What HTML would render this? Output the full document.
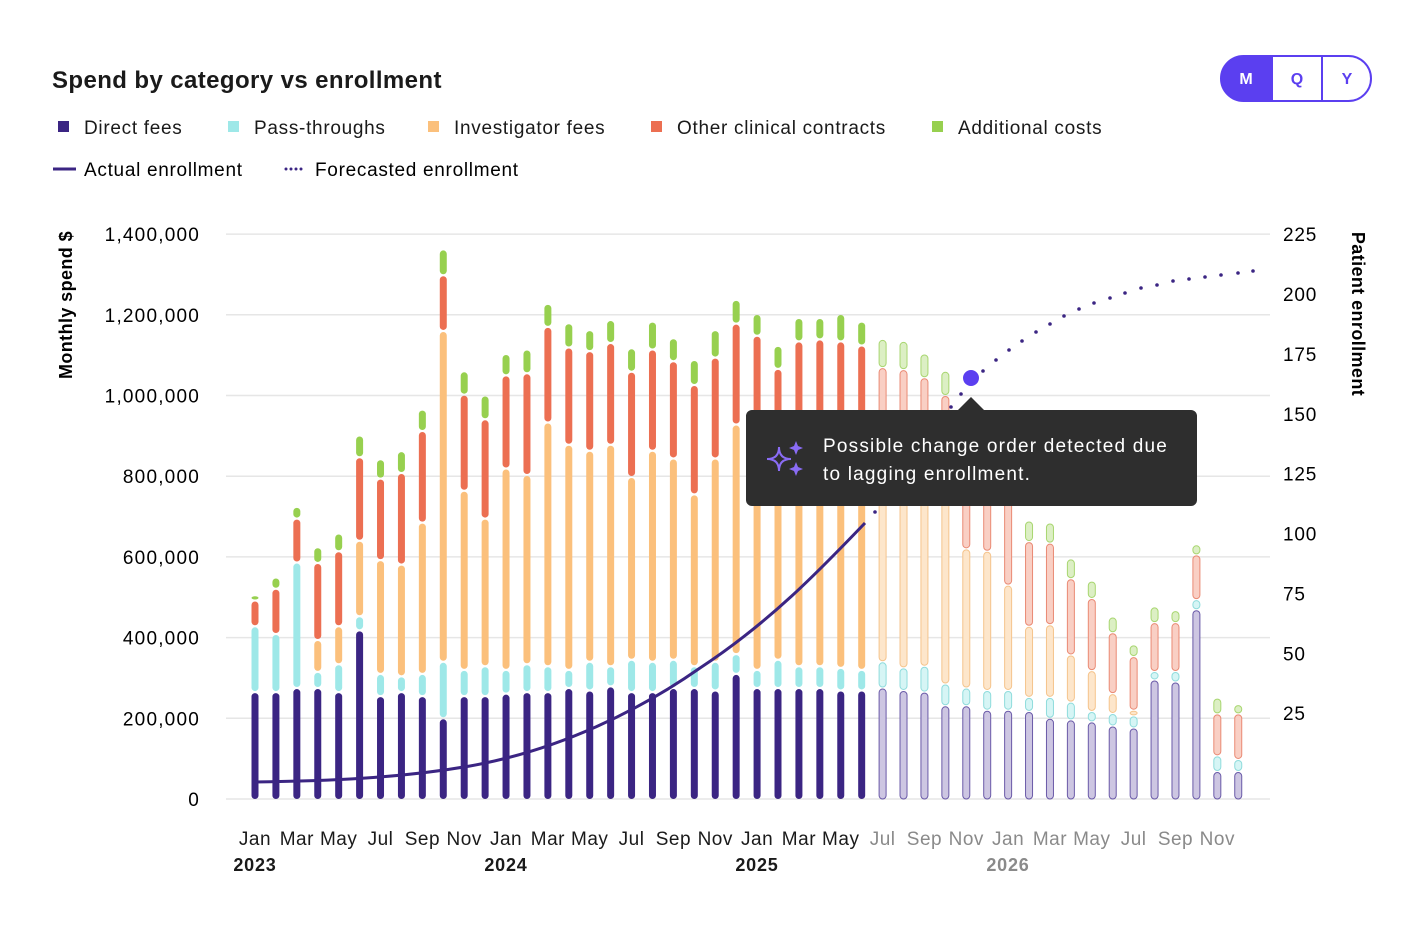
<!DOCTYPE html>
<html><head><meta charset="utf-8"><style>
html,body{margin:0;padding:0;background:#fff;width:1424px;height:950px;overflow:hidden;font-family:"Liberation Sans",sans-serif;color:#1a1a1a}
svg{position:absolute;left:0;top:0}
</style></head><body>
<svg id="s" width="1424" height="950" xmlns="http://www.w3.org/2000/svg" font-family="Liberation Sans, sans-serif"></svg>
<script>
const S=document.getElementById('s');let h='';
h+='<text x="52" y="88" font-size="24" font-weight="bold" fill="#1a1a1a" letter-spacing="0.4">Spend by category vs enrollment</text>';
h+='<path d="M1243,56 H1272 V101 H1243 A22.5,22.5 0 0 1 1243,56Z" fill="#5b3ff0"/>';
h+='<rect x="1221" y="56" width="150" height="45" rx="22.5" fill="none" stroke="#5b3ff0" stroke-width="2"/>';
h+='<line x1="1272" y1="56" x2="1272" y2="101" stroke="#5b3ff0" stroke-width="2"/><line x1="1322" y1="56" x2="1322" y2="101" stroke="#5b3ff0" stroke-width="2"/>';
h+='<text x="1246" y="84" font-size="16" font-weight="bold" fill="#fff" text-anchor="middle">M</text><text x="1297" y="84" font-size="16" font-weight="bold" fill="#5b3ff0" text-anchor="middle">Q</text><text x="1347" y="84" font-size="16" font-weight="bold" fill="#5b3ff0" text-anchor="middle">Y</text>';
const C=['#3b2583','#9ee8e8','#fbc07c','#ec6f52','#97d04f'];
const CF=['#cdc6e2','#d6f5f5','#fde6cb','#f9cfc4','#dcefc4'];
const CS=['#6a5aa8','#8fdcdc','#f5c48c','#ea8a74','#a8d670'];
const L=[[58,'Direct fees'],[228,'Pass-throughs'],[428,'Investigator fees'],[651,'Other clinical contracts'],[932,'Additional costs']];
L.forEach((l,i)=>{h+=`<rect x="${l[0]}" y="121" width="11" height="11" fill="${C[i]}"/><text x="${l[0]+26}" y="134" font-size="19" fill="#1a1a1a" letter-spacing="0.7">${l[1]}</text>`});
h+='<line x1="53" y1="169" x2="76" y2="169" stroke="#3b2583" stroke-width="3"/><text x="84" y="176" font-size="19" letter-spacing="0.7">Actual enrollment</text>';
h+='<line x1="286" y1="169" x2="306" y2="169" stroke="#3b2583" stroke-width="3" stroke-dasharray="0 5" stroke-linecap="round"/><text x="315" y="176" font-size="19" letter-spacing="0.7">Forecasted enrollment</text>';
for(let k=0;k<8;k++){const y=799-k*80.7;h+=`<line x1="226" y1="${y}" x2="1270" y2="${y}" stroke="#e6e6e6" stroke-width="1.5"/>`;
h+=`<text x="200" y="${y+7}" font-size="19" text-anchor="end" letter-spacing="1.2">${k==0?'0':(k*200000).toLocaleString('en-US')}</text>`;}
for(let k=1;k<=9;k++){const y=773-2.395*k*25;h+=`<text x="1283" y="${y+7}" font-size="19" letter-spacing="0.8">${k*25}</text>`;}
h+='<text transform="translate(72,305) rotate(-90)" font-size="18" font-weight="bold" text-anchor="middle" letter-spacing="0.4">Monthly spend $</text>';
h+='<text transform="translate(1352,314) rotate(90)" font-size="18" font-weight="bold" text-anchor="middle" letter-spacing="0.4">Patient enrollment</text>';
const D=[[265,428,428,492,505],[265,409,409,521,549],[275,586,586,695,724],[275,315,394,585,624],[265,334,428,614,658],[418,453,640,847,901],[255,310,592,794,842],[265,304,581,808,862],[255,310,685,912,965],[200,340,1160,1298,1362],[255,320,764,1002,1060],[255,329,695,941,1000],[261,320,819,1050,1103],[265,334,803,1055,1114],[265,329,933,1170,1227],
[275,320,878,1119,1179],[269,340,863,1110,1162],[279,329,878,1130,1187],[265,345,798,1059,1117],[265,340,863,1114,1183],[275,345,844,1085,1142],[275,329,755,1026,1088],[269,340,844,1094,1162],[310,359,928,1178,1237],[275,320,920,1148,1202],[275,345,860,1066,1123],[275,329,880,1134,1192],[275,329,880,1139,1192],[269,325,880,1134,1202],[269,320,870,1124,1183],
[275,340,880,1069,1139],[269,325,870,1064,1134],[265,329,850,1044,1103],[231,285,820,1000,1060],[231,275,620,860,913],[220,269,614,810,859],[220,269,530,740,780],[217,252,428,638,689],[200,252,432,634,684],[196,240,357,546,595],[191,217,318,497,540],[181,212,261,412,451],[176,206,220,353,382],[295,316,316,437,476],[290,316,316,437,467],[469,494,494,605,630],[68,107,107,211,250],[68,98,98,211,234]];
const Y=v=>799-v*0.4035;
D.forEach((b,i)=>{const x=255+20.92*i;let prev=0;const f=i>=30;
b.forEach((v,j)=>{if(v-prev<1){return;}let y1=Y(v)+1,y2=Y(prev)-1;if(prev==0)y2=799;const hh=Math.max(y2-y1,3);
if(f)h+=`<rect x="${x-3.5}" y="${y1}" width="7" height="${hh}" rx="3.5" fill="${CF[j]}" stroke="${CS[j]}" stroke-width="1"/>`;
else h+=`<rect x="${x-3.5}" y="${y1}" width="7" height="${hh}" rx="3.5" fill="${C[j]}"/>`;prev=v;});});
h+='<path d="M253,782 C330,781 400,778 470,766 C560,750 640,710 700,668 C770,622 820,570 865,523" fill="none" stroke="#3b2583" stroke-width="3"/>';
const P=[[875,512],[885,499],[895,486],[913,459],[932,432],[941,420],[951,407],[961,394],[971,379],[983,371],[996,360],[1009,350],[1022,341],[1036,332],[1050,324],[1064,316],[1079,309],[1094,303],[1110,298],[1125,293],[1141,288],[1157,285],[1173,281],[1189,279],[1205,277],[1221,275],[1238,273],[1253,271]];
P.forEach(p=>{h+=`<circle cx="${p[0]}" cy="${p[1]}" r="1.8" fill="#3b2583"/>`});
h+='<path d="M746,416 a6,6 0 0 1 6,-6 H958 L971,397 L984,410 H1191 a6,6 0 0 1 6,6 V500 a6,6 0 0 1 -6,6 H752 a6,6 0 0 1 -6,-6Z" fill="#2e2e2e"/>';
h+='<circle cx="971" cy="378" r="8" fill="#5b3ff0"/>';
const st=(cx,cy,r)=>`<path d="M${cx},${cy-r} Q${cx},${cy} ${cx+r},${cy} Q${cx},${cy} ${cx},${cy+r} Q${cx},${cy} ${cx-r},${cy} Q${cx},${cy} ${cx},${cy-r}Z" fill="none" stroke="#8a6cf5" stroke-width="2"/>`;
h+=st(779,459,12);h+=`<path d="M796,441 l2,5 5,2 -5,2 -2,5 -2,-5 -5,-2 5,-2z" fill="#8a6cf5"/><path d="M796,462 l2,5 5,2 -5,2 -2,5 -2,-5 -5,-2 5,-2z" fill="#8a6cf5"/>`;
h+='<text x="823" y="452" font-size="19" fill="#fff" letter-spacing="1.2">Possible change order detected due</text><text x="823" y="480" font-size="19" fill="#fff" letter-spacing="1.2">to lagging enrollment.</text>';
const M=['Jan','Mar','May','Jul','Sep','Nov'];
for(let i=0;i<48;i+=2){const x=255+20.92*i;h+=`<text x="${x}" y="845" font-size="19" text-anchor="middle" fill="${i>=30?'#8a8a8a':'#1a1a1a'}" letter-spacing="0.5">${M[(i/2)%6]}</text>`;}
[2023,2024,2025,2026].forEach((y,k)=>{h+=`<text x="${255+251*k}" y="871" font-size="18" font-weight="bold" text-anchor="middle" fill="${k==3?'#8a8a8a':'#1a1a1a'}" letter-spacing="0.8">${y}</text>`});
S.innerHTML=h;
</script>
</body></html>
